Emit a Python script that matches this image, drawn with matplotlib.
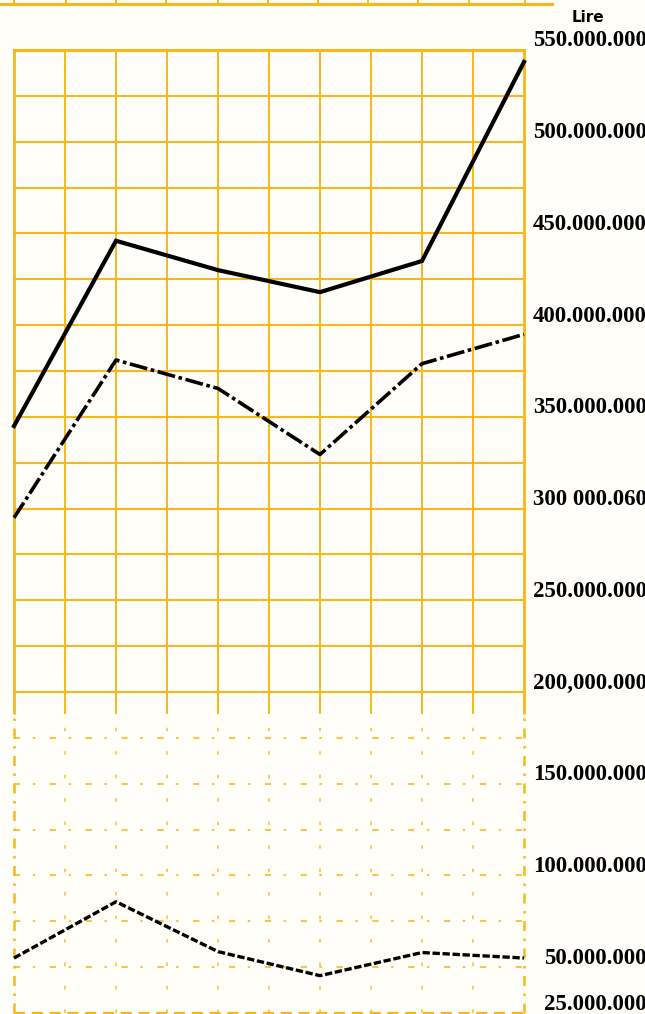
#!/usr/bin/env python3
"""Three-series lire chart on orange squared paper, redrawn from an old scan."""
import numpy as np
import matplotlib
matplotlib.use("Agg")
import matplotlib.pyplot as plt
from matplotlib.lines import Line2D

ORANGE = "#F6B81A"
PAPER = "#FFFEF8"

# values in millions of lire, one per period (the original has no x labels)
periods = list(range(6))
total = [345, 446, 430, 418, 435, 543.5]        # solid line
middle = [295, 381, 365.5, 329.5, 379, 395]     # dash-dot line
lower = [55, 85.7, 58.5, 45.4, 58, 55]          # dashed line

tick_values = [550, 500, 450, 400, 350, 300, 250, 200, 150, 100, 50, 25]
tick_labels = ["550.000.000", "500.000.000", "450.000.000", "400.000.000",
               "350.000.000", "300 000.060", "250.000.000", "200,000.000",
               "150.000.000", "100.000.000", "50.000.000", "25.000.000"]


def main():
    fig = plt.figure(figsize=(6.45, 10.14), dpi=100, facecolor=PAPER)
    ax = fig.add_axes([14 / 645, 0, 510 / 645, 964 / 1014])
    ax.set_facecolor(PAPER)
    ax.set_xlim(periods[0], periods[-1])
    ax.set_ylim(24.5, 550)
    for s in ax.spines.values():
        s.set_visible(False)
    ax.set_xticks([]); ax.set_yticks([])

    cols = np.arange(periods[0], periods[-1] + 0.01, 0.5)
    # upper, fully printed part of the grid
    for y in range(200, 551, 25):
        ax.axhline(y, color=ORANGE, lw=2.2 if y == 550 else 1.5, zorder=1, clip_on=False)
    for x in cols:
        ax.vlines(x, 188, 550, color=ORANGE, lw=2.0 if x in (cols[0], cols[-1]) else 1.4,
                  zorder=1, clip_on=False)
    # lower part of the grid came out faint and broken in the print
    for y in range(50, 176, 25):
        ax.axhline(y, color=ORANGE, lw=1.5, ls=(0, (3, 6, 1.2, 7)), alpha=0.8, zorder=1)
    ax.axhline(25, color=ORANGE, lw=1.6, ls=(0, (5, 3)), zorder=1, clip_on=False)
    for x in cols[1:-1]:
        ax.vlines(x, 25, 188, color=ORANGE, lw=1.3, ls=(0, (2, 11)), alpha=0.75, zorder=1)
    for x in (cols[0], cols[-1]):
        ax.vlines(x, 25, 188, color=ORANGE, lw=1.8, ls=(0, (4, 3, 1, 3)), zorder=1,
                  clip_on=False)

    ax.plot(periods, total, color="black", lw=3.0, solid_joinstyle="miter", zorder=3,
            clip_on=False)
    ax.plot(periods, middle, color="black", lw=2.6, dashes=(5, 1.0, 1.0, 1.0), zorder=3,
            clip_on=False)
    ax.plot(periods, lower, color="black", lw=2.4, dashes=(2.2, 0.8), zorder=3,
            clip_on=False)

    for v, lab in zip(tick_values, tick_labels):
        ax.annotate(lab, xy=(647 / 645, v), xycoords=("figure fraction", "data"),
                    xytext=(0, 6.5), textcoords="offset points", ha="right", va="center",
                    fontsize=16.5, fontweight="bold", family="Liberation Serif",
                    annotation_clip=False)
    fig.text(588 / 645, 1 - 18 / 1014, "Lire", ha="center", va="center",
             fontsize=11, fontweight="bold", family="DejaVu Sans")

    # bottom edge of the chart printed above this one
    ytop = 1 - 4 / 1014
    fig.add_artist(Line2D([0, 526 / 645], [ytop, ytop], color=ORANGE, lw=2.2))
    fig.add_artist(Line2D([529 / 645, 552 / 645], [ytop, ytop], color=ORANGE, lw=2.2))
    for px in (14, 66, 116, 166, 218, 268, 318, 368, 418, 469, 525):
        fig.add_artist(Line2D([px / 645] * 2, [ytop, 1], color=ORANGE, lw=1.4))

    fig.savefig("out.png", dpi=100, facecolor=PAPER)


if __name__ == "__main__":
    main()
